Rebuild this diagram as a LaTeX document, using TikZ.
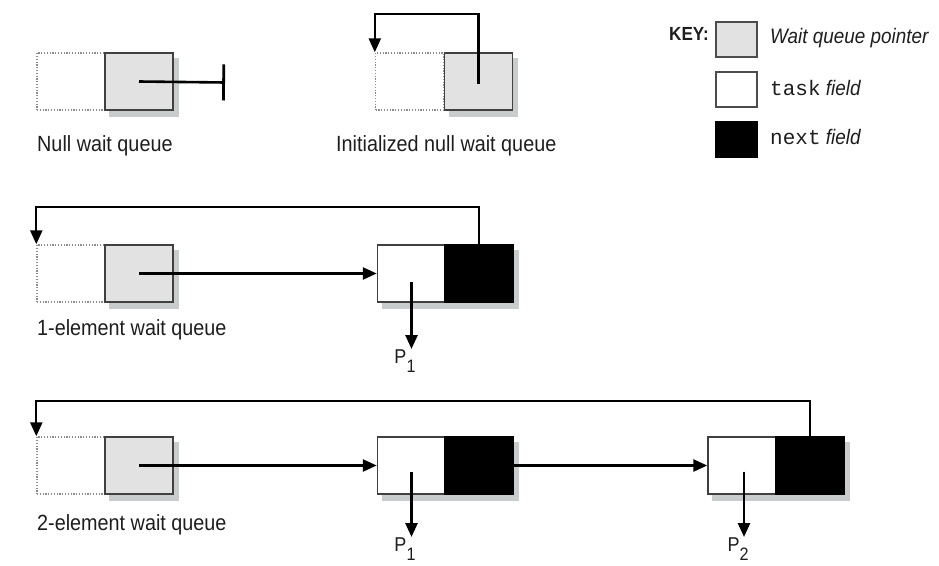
\documentclass[tikz,border=0pt]{standalone}
\usepackage{fontspec}
\setmainfont{Liberation Sans}[FakeStretch=0.9]
\setmonofont{Liberation Mono}
\usetikzlibrary{arrows.meta,backgrounds}
\definecolor{ptrgray}{HTML}{E2E2E2}
\definecolor{txt}{HTML}{1E1E1E}
\definecolor{shadowgray}{HTML}{C8CCCC}
\begin{document}
\begin{tikzpicture}[x=1pt,y=-1pt,
  cell/.style={draw=black!75,line width=1.5pt,minimum width=68pt,minimum height=57pt,inner sep=0pt},
  ptrcell/.style={cell,fill=ptrgray},
  taskcell/.style={cell,fill=white},
  nextcell/.style={cell,fill=black,draw=black},
  headcell/.style={draw=black!45,dash pattern=on 1.2pt off 1.6pt,line width=1.4pt,minimum width=68pt,minimum height=57pt,inner sep=0pt},
  keybox/.style={draw=black!70,line width=1.5pt,minimum width=41pt,minimum height=35pt,inner sep=0pt},
  arr/.style={line width=2.6pt,-{Triangle[length=14pt,width=12pt]}},
  loop/.style={line width=2.3pt,-{Triangle[length=14pt,width=12pt]}},
  shadowfill/.style={fill=shadowgray},
  lbl/.style={anchor=west,inner sep=0pt,text=txt,font=\fontsize{22}{26}\selectfont},
  keytxt/.style={anchor=west,inner sep=0pt,text=txt,font=\fontsize{21}{24}\selectfont},
  plbl/.style={inner sep=1pt,text=txt,font=\fontsize{20}{22}\selectfont}
]
\useasboundingbox (0,0) rectangle (939,565);

% ---- Null wait queue
\node[headcell] (d1) at (71,81.5) {};
\node[ptrcell] (g1) at (139,81.5) {};
\coordinate (t1) at (225,82.5);
\draw[line width=2.6pt,-{Bar[width=36pt,line width=2.8pt]}] (g1.center) -- (t1);
\node[lbl] (l1) at (37,146) {Null wait queue};

% ---- Initialized null wait queue
\node[headcell] (d2) at (409.5,81.5) {};
\node[ptrcell] (g2) at (478.5,81.5) {};
\draw[loop] ([yshift=-2pt]g2.center) |- ([yshift=38pt]d2.north west) -- (d2.north west);
\node[lbl] (l2) at (336,146) {Initialized null wait queue};

% ---- Key
\node[anchor=east,inner sep=0pt,text=txt,font=\fontsize{19}{20}\selectfont\bfseries] (key) at (709,34) {KEY:};
\node[keybox,fill=ptrgray] (kg) at (736.5,39.5) {};
\node[keybox,fill=white] (kw) at (736.5,89.5) {};
\node[keybox,fill=black,draw=black] (kb) at (736.5,139.5) {};
\node[keytxt] (kgt) at (770,38) {\itshape Wait queue pointer};
\node[keytxt] (kwt) at (770,88) {\texttt{task} \itshape field};
\node[keytxt] (kbt) at (770,137) {\texttt{next} \itshape field};

% ---- 1-element wait queue
\node[headcell] (d3) at (71,273.5) {};
\node[ptrcell] (g3) at (139,273.5) {};
\node[taskcell] (w3) at (411.5,273.5) {};
\node[nextcell] (b3) at (479,273.5) {};
\draw[arr] (g3.center) -- (w3.west);
\draw[loop] (b3.north) |- ([yshift=37pt]d3.north west) -- (d3.north west);
\coordinate (s3) at ([yshift=-8pt]w3.center);
\node[plbl,anchor=north] (p31) at (405,349) {P\raisebox{-9pt}{\fontsize{18}{18}\selectfont 1}};
\draw[arr] (s3) -- (s3 |- p31.north);
\node[lbl] (l3) at (37,330) {1-element wait queue};

% ---- 2-element wait queue
\node[headcell] (d4) at (71,465.5) {};
\node[ptrcell] (g4) at (139,465.5) {};
\node[taskcell] (w4) at (411.5,465.5) {};
\node[nextcell] (b4) at (479,465.5) {};
\node[taskcell] (w5) at (742,465.5) {};
\node[nextcell] (b5) at (810,465.5) {};
\draw[arr] (g4.center) -- (w4.west);
\draw[arr] (b4.east) -- (w5.west);
\draw[loop] (b5.north) |- ([yshift=35pt]d4.north west) -- (d4.north west);
\coordinate (s4) at ([yshift=-6pt]w4.center);
\coordinate (s5) at ([yshift=-6pt,xshift=2pt]w5.center);
\node[plbl,anchor=north] (p41) at (405,537) {P\raisebox{-9pt}{\fontsize{18}{18}\selectfont 1}};
\node[plbl,anchor=north] (p42) at (738,537) {P\raisebox{-9pt}{\fontsize{18}{18}\selectfont 2}};
\draw[arr] (s4) -- (s4 |- p41.north);
\draw[arr] (s5) -- (s5 |- p42.north);
\node[lbl] (l4) at (37,525) {2-element wait queue};

% ---- soft drop shadows
\begin{scope}[on background layer]
  \foreach \n in {g1,g2,g3,w3,b3,g4,w4,b4,w5,b5}{
    \fill[shadowfill] ([xshift=5pt,yshift=-6pt]\n.south west) rectangle ([xshift=5pt,yshift=-6pt]\n.north east);
  }
\end{scope}
\end{tikzpicture}
\end{document}
